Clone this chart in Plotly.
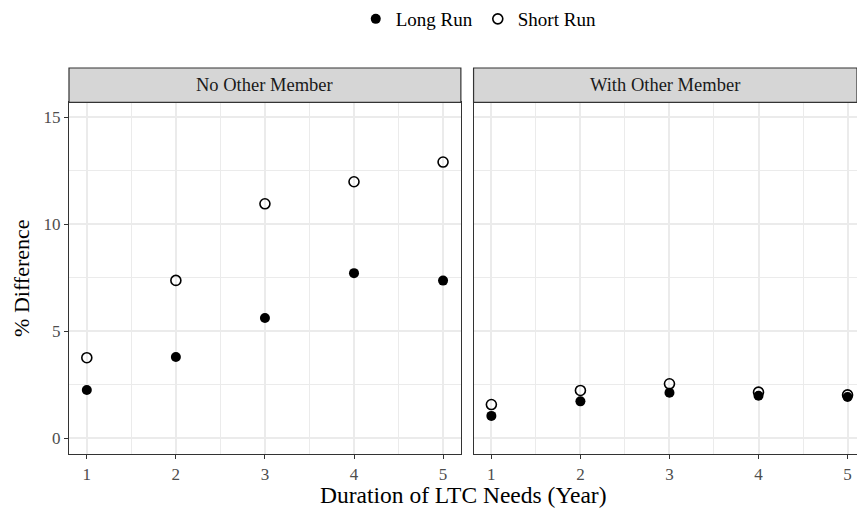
import plotly.graph_objects as go

# Duration of long-term-care needs, in years
years = [1, 2, 3, 4, 5]

# % difference, household without another member
no_other_long = [2.25, 3.79, 5.61, 7.71, 7.36]
no_other_short = [3.76, 7.37, 10.95, 11.98, 12.90]

# % difference, household with another member
with_other_long = [1.04, 1.72, 2.12, 1.98, 1.92]
with_other_short = [1.57, 2.23, 2.54, 2.15, 2.02]

panel_titles = ["No Other Member", "With Other Member"]
y_ticks = [0, 5, 10, 15]

FONT = "Liberation Serif"
GRID = "#EBEBEB"
DARK = "#333333"
TICKTXT = "#4D4D4D"

fig = go.Figure()

panels = [
    ("x", "y", no_other_long, no_other_short, True),
    ("x2", "y2", with_other_long, with_other_short, False),
]
for xa, ya, longv, shortv, show in panels:
    # hollow points first so the filled ones sit on top
    fig.add_trace(go.Scatter(
        x=years, y=shortv, xaxis=xa, yaxis=ya, mode="markers",
        name="Short Run", legendgroup="short", showlegend=show, legendrank=2,
        marker=dict(symbol="circle-open", size=10, color="black",
                    line=dict(width=1.6, color="black")),
    ))
    fig.add_trace(go.Scatter(
        x=years, y=longv, xaxis=xa, yaxis=ya, mode="markers",
        name="Long Run", legendgroup="long", showlegend=show, legendrank=1,
        marker=dict(symbol="circle", size=10, color="black"),
    ))

plot_h = 389.0
strip_h = 34.6
y_top = 1 - strip_h / plot_h

x_common = dict(
    range=[0.8, 5.2], tickmode="array", tickvals=years,
    ticks="outside", ticklen=4, tickwidth=1.2, tickcolor=DARK,
    tickfont=dict(family=FONT, size=17, color=TICKTXT),
    showgrid=True, gridcolor=GRID, gridwidth=1.6,
    minor=dict(dtick=0.5, tick0=0.5, showgrid=True, gridcolor=GRID, gridwidth=0.8, ticks=""),
    showline=True, linecolor=DARK, linewidth=1.2, mirror=True,
    zeroline=False,
)
y_common = dict(
    range=[-0.74, 15.69], tickmode="array", tickvals=y_ticks,
    ticks="outside", ticklen=4, tickwidth=1.2, tickcolor=DARK,
    tickfont=dict(family=FONT, size=17, color=TICKTXT),
    showgrid=True, gridcolor=GRID, gridwidth=1.6,
    minor=dict(dtick=2.5, tick0=0, showgrid=True, gridcolor=GRID, gridwidth=0.8, ticks=""),
    showline=True, linecolor=DARK, linewidth=1.2, mirror=True,
    zeroline=False, domain=[0, y_top],
)

left_dom = [0, 0.4973]
right_dom = [0.5134, 1]

fig.update_layout(
    width=857, height=514,
    margin=dict(l=69, r=0, t=65, b=60),
    paper_bgcolor="white", plot_bgcolor="white",
    font=dict(family=FONT, color="black"),
    xaxis=dict(x_common, domain=left_dom, anchor="y"),
    xaxis2=dict(x_common, domain=right_dom, anchor="y2", range=[0.8, 5.106]),
    yaxis=dict(y_common, anchor="x",
               title=dict(text="% Difference", font=dict(family=FONT, size=22), standoff=7)),
    yaxis2=dict(y_common, anchor="x2", showticklabels=False, ticks=""),
    legend=dict(orientation="h", x=0.52, xanchor="center", y=1.128, yanchor="middle",
                font=dict(family=FONT, size=19), itemwidth=30, bgcolor="rgba(0,0,0,0)"),
    showlegend=True,
)

# facet strips
for dom, title in zip([left_dom, right_dom], panel_titles):
    fig.add_shape(type="rect", xref="paper", yref="paper",
                  x0=dom[0], x1=dom[1], y0=y_top, y1=1,
                  fillcolor="#D6D6D6", line=dict(color=DARK, width=1.2), layer="above")
    fig.add_annotation(xref="paper", yref="paper", x=(dom[0] + dom[1]) / 2,
                       y=(y_top + 1) / 2, text=title, showarrow=False,
                       font=dict(family=FONT, size=18.5, color="#1A1A1A"),
                       xanchor="center", yanchor="middle")

# shared x-axis title
fig.add_annotation(xref="paper", yref="paper", x=0.5, y=-0.105,
                   text="Duration of LTC Needs (Year)", showarrow=False,
                   font=dict(family=FONT, size=23.5, color="black"),
                   xanchor="center", yanchor="middle")

fig.write_html("out.html")
